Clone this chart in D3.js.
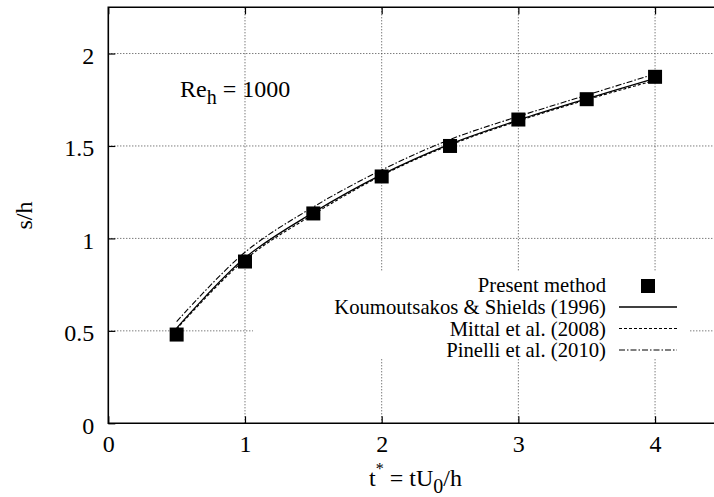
<!DOCTYPE html>
<html><head><meta charset="utf-8">
<script src="https://cdn.jsdelivr.net/npm/d3@7"></script>
<style>
body{margin:0;background:#fff}
svg text{font-family:'Liberation Serif','Tinos','Times New Roman','DejaVu Serif',serif !important;fill:#000}
</style>
</head><body>
<svg id="c" width="714" height="497" font-family="Liberation Serif"></svg>
<script>
// ---- data ----
const tValues = [0.5, 1.0, 1.5, 2.0, 2.5, 3.0, 3.5, 4.0];
const presentMethod = [0.48, 0.875, 1.135, 1.335, 1.50, 1.643, 1.753, 1.874];
const koumoutsakos = [0.515, 0.895, 1.14, 1.345, 1.51, 1.64, 1.755, 1.865];
const mittal = [0.51, 0.885, 1.13, 1.34, 1.505, 1.635, 1.75, 1.855];
const pinelli = [0.55, 0.925, 1.17, 1.37, 1.535, 1.66, 1.775, 1.89];
const xTicks = [0, 1, 2, 3, 4];
const yTicks = [0, 0.5, 1, 1.5, 2];
const legendLabels = ["Present method", "Koumoutsakos & Shields (1996)", "Mittal et al. (2008)", "Pinelli et al. (2010)"];

// ---- layout ----
const FONT = "'Liberation Serif', Tinos, 'Times New Roman', 'DejaVu Serif', serif";
const svg = d3.select("#c");
const L = 108.3, R = 723.4, T = 7.3, B = 423.3;
const x = d3.scaleLinear().domain([0, 4.5]).range([L, R]);
const y = d3.scaleLinear().domain([0, 2.25]).range([B, T]);

// grid
const grid = svg.append("g").attr("stroke", "#444").attr("stroke-width", 1).attr("stroke-dasharray", "1,2");
grid.selectAll(".gx").data(xTicks.filter(d => d > 0)).join("line")
  .attr("x1", d => x(d)).attr("x2", d => x(d)).attr("y1", B).attr("y2", T);
grid.selectAll(".gy").data(yTicks.filter(d => d > 0)).join("line")
  .attr("x1", L).attr("x2", 714).attr("y1", d => y(d)).attr("y2", d => y(d));

// axes (ticks inward)
const fmt = d => String(d);
const xAxis = svg.append("g").attr("transform", `translate(0,${B})`)
  .call(d3.axisBottom(x).tickValues(xTicks).tickSize(-7).tickPadding(0).tickFormat(fmt));
const xAxisTop = svg.append("g").attr("transform", `translate(0,${T})`)
  .call(d3.axisTop(x).tickValues(xTicks).tickSize(-7).tickFormat(""));
const yAxis = svg.append("g").attr("transform", `translate(${L},0)`)
  .call(d3.axisLeft(y).tickValues(yTicks).tickSize(-7).tickPadding(0).tickFormat(fmt));
[xAxis, xAxisTop, yAxis].forEach(g => {
  g.attr("font-family", FONT);
  g.select(".domain").remove();
  g.selectAll(".tick line").attr("stroke", "#000").attr("stroke-width", 1.2);
});
xAxis.selectAll(".tick text").attr("y", 29).attr("dy", 0).attr("font-size", 24).style("font-family", FONT);
yAxis.selectAll(".tick text").attr("x", -14).attr("dy", 10).attr("font-size", 24).style("font-family", FONT);

// border
svg.append("path").attr("fill", "none").attr("stroke", "#000").attr("stroke-width", 1.6)
  .attr("d", `M714,${T}H${L}V${B}H714`);

// legend backdrop (opaque key box without border)
svg.append("rect").attr("x", 253).attr("y", 271).attr("width", 437).attr("height", 88).attr("fill", "#fff");

// curves
const line = d3.line().x((d, i) => x(tValues[i])).y(d => y(d)).curve(d3.curveCatmullRom.alpha(0.5));
const styles = [
  {data: koumoutsakos, dash: null, w: 1.3},
  {data: mittal, dash: "3,2", w: 1.1},
  {data: pinelli, dash: "6,2,1.5,2", w: 1.1}
];
svg.append("g").selectAll("path").data(styles).join("path")
  .attr("d", s => line(s.data)).attr("fill", "none").attr("stroke", "#000")
  .attr("stroke-width", s => s.w).attr("stroke-dasharray", s => s.dash);

// markers
const ms = 14;
svg.append("g").selectAll("rect").data(presentMethod).join("rect")
  .attr("x", (d, i) => x(tValues[i]) - ms / 2).attr("y", d => y(d) - ms / 2)
  .attr("width", ms).attr("height", ms).attr("fill", "#000");

// legend
const lg = svg.append("g");
const baselines = [292, 314, 335.5, 357];
lg.selectAll("text").data(legendLabels).join("text")
  .attr("x", 606).attr("y", (d, i) => baselines[i]).attr("text-anchor", "end")
  .attr("font-size", 20.7).style("font-family", FONT).text(d => d);
lg.append("rect").attr("x", 648 - ms / 2).attr("y", 286 - ms / 2).attr("width", ms).attr("height", ms).attr("fill", "#000");
styles.forEach((s, i) => {
  const yy = baselines[i + 1] - 7;
  lg.append("line").attr("x1", 619).attr("x2", 677).attr("y1", yy).attr("y2", yy)
    .attr("stroke", "#000").attr("stroke-width", s.w).attr("stroke-dasharray", s.dash);
});

// annotation
const ann = svg.append("text").attr("x", 180).attr("y", 97).attr("font-size", 24).style("font-family", FONT);
ann.append("tspan").text("Re");
ann.append("tspan").attr("dy", 7).attr("font-size", 20).text("h");
ann.append("tspan").attr("dy", -7).text(" = 1000");

// axis titles
const xt = svg.append("text").attr("x", 415.5).attr("y", 486).attr("text-anchor", "middle").attr("font-size", 24).style("font-family", FONT);
xt.append("tspan").text("t");
xt.append("tspan").attr("dy", -12).attr("font-size", 16).text("*");
xt.append("tspan").attr("dy", 12).text(" = tU");
xt.append("tspan").attr("dy", 7).attr("font-size", 20).text("0");
xt.append("tspan").attr("dy", -7).text("/h");

svg.append("text").attr("transform", "translate(32,215.5) rotate(-90)")
  .attr("text-anchor", "middle").attr("font-size", 24).style("font-family", FONT).text("s/h");
</script>
</body></html>
